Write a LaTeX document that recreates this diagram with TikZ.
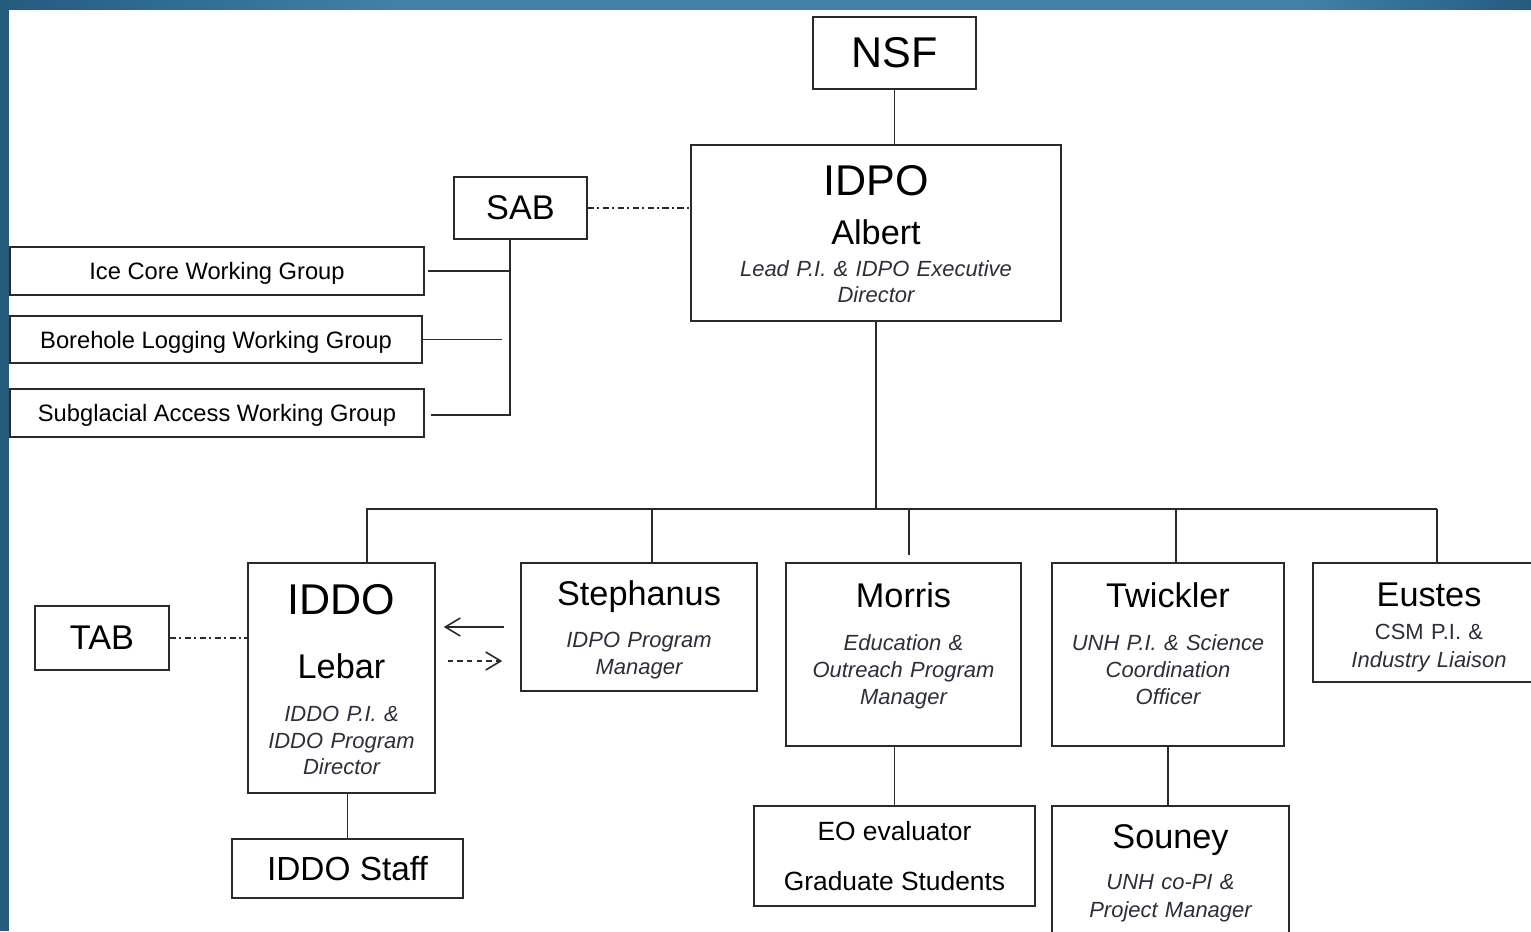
\documentclass[tikz,border=0pt]{standalone}
\usepackage{fontspec}
\setmainfont{Liberation Sans}
\usetikzlibrary{arrows.meta}

\definecolor{banddark}{HTML}{245B7F}
\definecolor{bandlight}{HTML}{4181A8}
\definecolor{linegray}{HTML}{2A2A2A}
\definecolor{rolegray}{HTML}{2E2E3A}
\pgfdeclarehorizontalshading{bandshade}{100bp}{color(0bp)=(banddark); color(25bp)=(banddark); color(38bp)=(bandlight); color(67.5bp)=(bandlight); color(75bp)=(banddark); color(100bp)=(banddark)}

\lineskiplimit=-100pt
\newcommand{\bigfont}{\fontsize{24.5}{15}\selectfont}
\newcommand{\namefont}{\fontsize{19.5}{15}\selectfont}
\newcommand{\rolefont}{\fontsize{12.5}{15}\selectfont\itshape\color{rolegray}}
\newcommand{\groupfont}{\fontsize{13.5}{15}\selectfont}
\newcommand{\eofont}{\fontsize{15}{15}\selectfont}

\begin{document}
\begin{tikzpicture}[x=0.02cm,y=-0.02cm,
  orgbox/.style={rectangle,draw=linegray,line width=0.9pt,align=center,inner sep=0pt,font=\fontsize{12.5}{15}\selectfont},
  groupbox/.style={orgbox,text height=9.7pt,text depth=0pt},
  link/.style={draw=linegray,line width=0.9pt},
  advisory/.style={link,dash pattern=on 3.5pt off 2pt on 1pt off 2pt},
  barb/.style={-{Straight Barb[length=3mm,width=3.6mm]}}]
  \useasboundingbox (0,0) rectangle (1531,931);
  \clip (0,0) rectangle (1531,931);
  % frame of the slide
  \fill[white] (0,0) rectangle (1531,931);
  \shade[shading=bandshade] (0,0) rectangle (1531,9);
  \fill[banddark] (0,0) rectangle (9,931);

  % top of the chart
  \node[orgbox,minimum width=3.26cm,minimum height=1.44cm] (nsf) at (894.5,53) {\bigfont NSF};
  \node[orgbox,minimum width=7.4cm,minimum height=3.52cm,text width=7cm,text height=7.3pt,text depth=50pt] (idpo) at (876,233)
    {\bigfont IDPO\\[12.7pt]\namefont Albert\\[3.5pt]\rolefont Lead P.I. \& IDPO Executive\\[-0.3pt]\rolefont Director};
  \node[orgbox,minimum width=2.66cm,minimum height=1.24cm] (sab) at (520.5,208) {\namefont SAB};

  % working groups
  \node[groupbox,minimum width=8.28cm,minimum height=0.96cm] (wg1) at (217,271) {\groupfont Ice Core Working Group};
  \node[groupbox,minimum width=8.24cm,minimum height=0.94cm] (wg2) at (216,339.5) {\groupfont Borehole Logging Working Group};
  \node[groupbox,minimum width=8.28cm,minimum height=0.96cm] (wg3) at (217,413) {\groupfont Subglacial Access Working Group};

  % second level
  \node[orgbox,minimum width=2.68cm,minimum height=1.28cm] (tab) at (102,638) {\namefont TAB};
  \node[orgbox,minimum width=3.74cm,minimum height=4.6cm,text width=3.6cm,text height=7.7pt,text depth=80pt] (iddo) at (341.5,678)
    {\bigfont IDDO\\[21.7pt]\namefont Lebar\\[9.2pt]\rolefont IDDO P.I. \&\\[0.3pt]\rolefont IDDO Program\\[-0.3pt]\rolefont Director};
  \node[orgbox,minimum width=4.72cm,minimum height=2.56cm,text width=4.5cm,text height=15.3pt,text depth=40pt] (steph) at (639,627)
    {\namefont Stephanus\\[9.2pt]\rolefont IDPO Program\\[0.3pt]\rolefont Manager};
  \node[orgbox,minimum width=4.7cm,minimum height=3.66cm,text width=4.5cm,text height=16.3pt,text depth=70pt] (morris) at (903.5,654.5)
    {\namefont Morris\\[9.7pt]\rolefont Education \&\\[0.3pt]\rolefont Outreach Program\\[0.3pt]\rolefont Manager};
  \node[orgbox,minimum width=4.64cm,minimum height=3.66cm,text width=4.5cm,text height=16.3pt,text depth=70pt] (twick) at (1168,654.5)
    {\namefont Twickler\\[9.7pt]\rolefont UNH P.I. \& Science\\\rolefont Coordination\\[0.6pt]\rolefont Officer};
  \node[orgbox,minimum width=4.64cm,minimum height=2.38cm,text width=4.5cm,text height=21.6pt,text depth=40pt] (eustes) at (1429,622.5)
    {\namefont Eustes\\[4pt]\fontsize{12.5}{15}\selectfont\color{rolegray}CSM P.I. \&\\[0.9pt]\rolefont Industry Liaison};

  % third level
  \node[orgbox,minimum width=4.62cm,minimum height=1.18cm] (staff) at (347.5,868.5) {\fontsize{19}{15}\selectfont IDDO Staff};
  \node[orgbox,minimum width=5.62cm,minimum height=2cm] (eo) at (894.5,856)
    {\eofont EO evaluator\\[13.3pt]\eofont Graduate Students};
  \node[orgbox,minimum width=4.74cm,minimum height=2.56cm,text width=4.6cm,text height=15.3pt,text depth=40pt] (souney) at (1170.5,870)
    {\namefont Souney\\[8.6pt]\rolefont UNH co-PI \&\\[0.9pt]\rolefont Project Manager};

  % connectors
  \draw[link] (nsf.south) -- (nsf.south |- idpo.north);
  \draw[advisory] (sab.east) -- (sab.east -| idpo.west);
  \coordinate (sabfoot) at (510,415);
  \draw[link] (sab.south -| sabfoot) -- (sabfoot) -- ([xshift=0.12cm]wg3.east |- sabfoot);
  \draw[link] ([xshift=0.06cm]wg1.east) -- (wg1.east -| sabfoot);
  \draw[link] (wg2.east) -- ([xshift=-0.16cm]wg2.east -| sabfoot);

  \coordinate (busL) at (366,509);
  \coordinate (busR) at (1437,509);
  \draw[link] (idpo.south) -- (idpo.south |- busL);
  \draw[link] (busL) -- (busR);
  \foreach \unit/\dx in {iddo/0.51,steph/0.26,twick/0.16,eustes/0.16}
    \draw[link] ([xshift=\dx cm]\unit.north |- busL) -- ([xshift=\dx cm]\unit.north);
  \draw[link] ([xshift=0.11cm]morris.north |- busL) -- ([xshift=0.11cm,yshift=0.14cm]morris.north);

  \draw[advisory] (tab.east) -- (tab.east -| iddo.west);
  \draw[link,barb,shorten <=0.32cm,shorten >=0.16cm] (steph.west) -- (steph.west -| iddo.east);
  \draw[link,barb,dash pattern=on 3pt off 2.5pt,shorten <=0.24cm,shorten >=0.36cm]
    ([yshift=0.34cm]iddo.east) -- ([yshift=0.34cm]iddo.east -| steph.west);

  \draw[link] (staff.north |- iddo.south) -- (staff.north);
  \draw[link] (eo.north |- morris.south) -- (eo.north);
  \draw[link] (twick.south) -- (twick.south |- souney.north);
\end{tikzpicture}
\end{document}
